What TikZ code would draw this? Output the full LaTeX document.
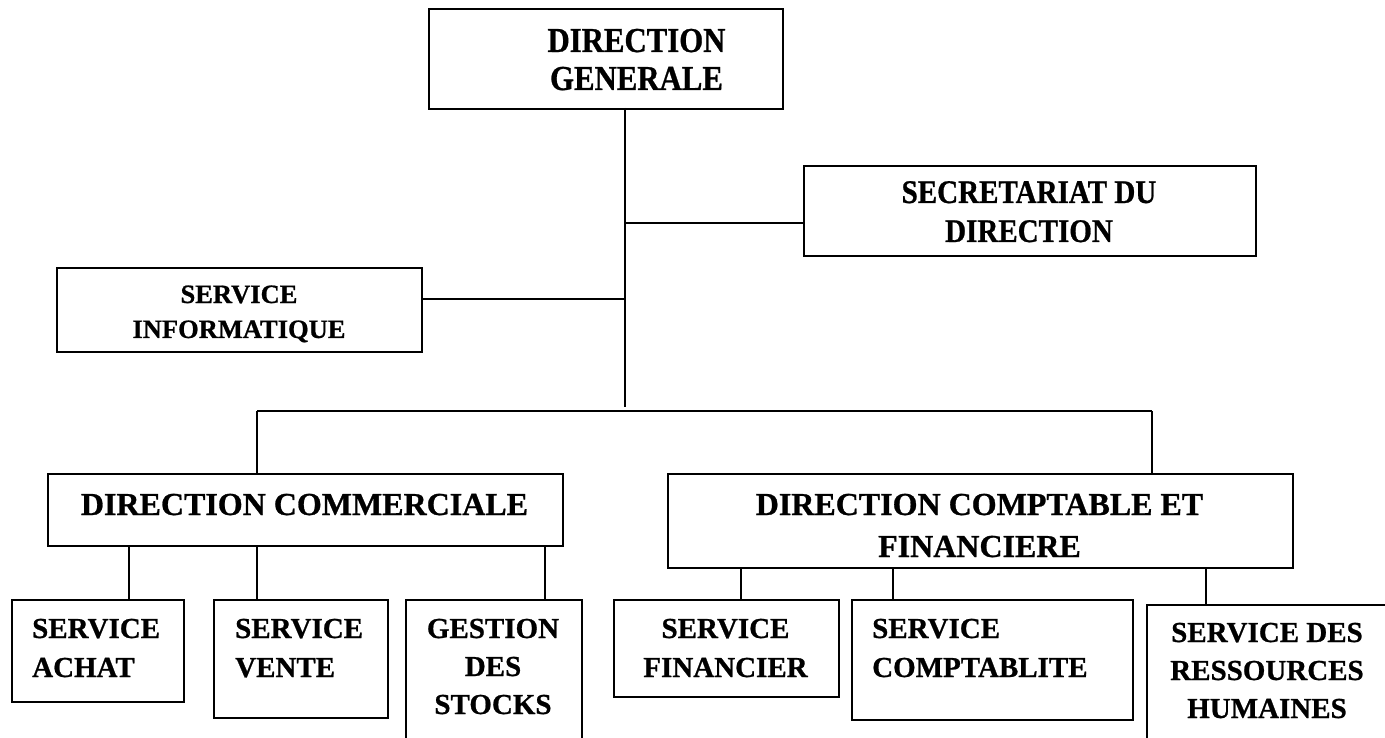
\documentclass[tikz,border=0pt]{standalone}
\usepackage{fontspec}
\setmainfont{Liberation Serif}[BoldFeatures={FakeBold=0.8}]
\newfontfamily\condfont{Liberation Serif}[FakeStretch=0.88,BoldFeatures={FakeBold=0.8}]
\newcommand{\tb}[2]{\begin{tabular}[t]{@{}#1@{}}#2\end{tabular}}
\begin{document}
\begin{tikzpicture}[x=1pt,y=-1pt,
  box/.style={draw, line width=1.9pt, inner sep=0pt, anchor=north west},
  txt/.style={inner sep=0pt, font=\bfseries},
  conn/.style={line width=1.7pt}]
\clip (0,0) rectangle (1385,738);
\useasboundingbox (0,0) rectangle (1385,738);
% boxes
\node[box, minimum width=354pt, minimum height=100pt] (dg) at (428,8) {};
\node[box, minimum width=452pt, minimum height=90pt] (sec) at (803,165) {};
\node[box, minimum width=365pt, minimum height=84pt] (info) at (56,267) {};
\node[box, minimum width=515pt, minimum height=72pt] (dc) at (47,473) {};
\node[box, minimum width=625pt, minimum height=94pt] (dcf) at (667,473) {};
\node[box, minimum width=172pt, minimum height=102pt] (achat) at (11,599) {};
\node[box, minimum width=174pt, minimum height=118pt] (vente) at (213,599) {};
\node[box, minimum width=176pt, minimum height=170pt] (stocks) at (405,599) {};
\node[box, minimum width=225pt, minimum height=97pt] (fin) at (613,599) {};
\node[box, minimum width=281pt, minimum height=120pt] (compta) at (851,599) {};
\node[box, minimum width=242pt, minimum height=170pt] (rh) at (1146,604) {};
% texts
\node[txt, anchor=base] (tdg) at (636.5,52) {\fontsize{35}{38}\selectfont\condfont\bfseries\tb{c}{DIRECTION\\GENERALE}};
\node[txt, anchor=base] (tsec) at (1029,203) {\fontsize{33}{39}\selectfont\condfont\bfseries\tb{c}{SECRETARIAT DU\\DIRECTION}};
\node[txt, anchor=base] (tinfo) at (239,303) {\fontsize{26.5}{35}\selectfont\tb{c}{SERVICE\\INFORMATIQUE}};
\node[txt, anchor=base] (tdc) at (304.5,515) {\fontsize{32}{42}\selectfont\tb{c}{DIRECTION COMMERCIALE}};
\node[txt, anchor=base] (tdcf) at (979.5,515) {\fontsize{32}{42}\selectfont\tb{c}{DIRECTION COMPTABLE ET\\FINANCIERE}};
\node[txt, anchor=base west] (tachat) at (32,638) {\fontsize{29}{39}\selectfont\tb{l}{SERVICE\\ACHAT}};
\node[txt, anchor=base west] (tvente) at (235,638) {\fontsize{29}{39}\selectfont\tb{l}{SERVICE\\VENTE}};
\node[txt, anchor=base] (tstocks) at (493,638) {\fontsize{29}{38}\selectfont\tb{c}{GESTION\\DES\\STOCKS}};
\node[txt, anchor=base] (tfin) at (725.5,638) {\fontsize{29}{39}\selectfont\tb{c}{SERVICE\\FINANCIER}};
\node[txt, anchor=base west] (tcompta) at (872,638) {\fontsize{29}{39}\selectfont\tb{l}{SERVICE\\COMPTABLITE}};
\node[txt, anchor=base] (trh) at (1267,642) {\fontsize{29}{38}\selectfont\tb{c}{SERVICE DES\\RESSOURCES\\HUMAINES}};
% junction coordinates
\coordinate (top) at (625,108);
\coordinate (jsec) at (625,223);
\coordinate (jinfo) at (625,299);
\coordinate (bot) at (625,407);
\coordinate (hl) at (257,411);
\coordinate (hr) at (1152,411);
% connectors
\draw[conn] (top) -- (bot);
\draw[conn] (jsec) -- (jsec -| sec.west);
\draw[conn] (jinfo) -- (jinfo -| info.east);
\draw[conn] (hl) -- (hr);
\draw[conn] (hl) -- (hl |- dc.north);
\draw[conn] (hr) -- (hr |- dcf.north);
\draw[conn] (dc.south -| 129,0) -- (achat.north -| 129,0);
\draw[conn] (dc.south -| 257,0) -- (vente.north -| 257,0);
\draw[conn] (dc.south -| 545,0) -- (stocks.north -| 545,0);
\draw[conn] (dcf.south -| 741,0) -- (fin.north -| 741,0);
\draw[conn] (dcf.south -| 893,0) -- (compta.north -| 893,0);
\draw[conn] (dcf.south -| 1206,0) -- (rh.north -| 1206,0);
\end{tikzpicture}
\end{document}
